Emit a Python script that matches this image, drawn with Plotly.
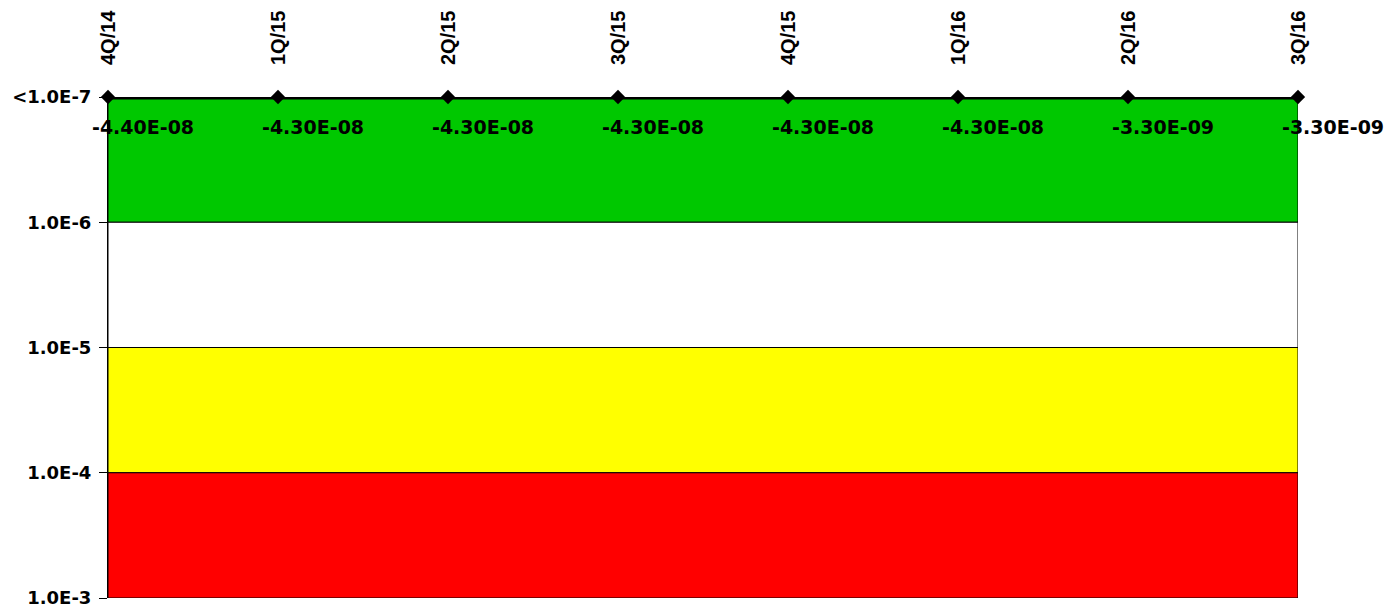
import numpy as np
import plotly.graph_objects as go

# ---- data ----
quarters = ["4Q/14", "1Q/15", "2Q/15", "3Q/15", "4Q/15", "1Q/16", "2Q/16", "3Q/16"]
values = [-4.40e-08, -4.30e-08, -4.30e-08, -4.30e-08, -4.30e-08, -4.30e-08, -3.30e-09, -3.30e-09]
value_labels = ["-4.40E-08", "-4.30E-08", "-4.30E-08", "-4.30E-08", "-4.30E-08", "-4.30E-08", "-3.30E-09", "-3.30E-09"]

floor_value = 1e-7  # values below this are shown at "<1.0E-7"
band_edges = [1e-7, 1e-6, 1e-5, 1e-4, 1e-3]
band_colors = ["#00C800", "#FFFFFF", "#FFFF00", "#FF0000"]
ytick_vals = [1e-7, 1e-6, 1e-5, 1e-4, 1e-3]
ytick_text = ["<1.0E-7", "1.0E-6", "1.0E-5", "1.0E-4", "1.0E-3"]

plotted = [max(v, floor_value) for v in values]

fig = go.Figure()

# threshold bands
for lo, hi, col in zip(band_edges[:-1], band_edges[1:], band_colors):
    fig.add_trace(go.Scatter(
        x=[quarters[0], quarters[-1], quarters[-1], quarters[0], quarters[0]],
        y=[lo, lo, hi, hi, lo],
        mode="lines", fill="toself", fillcolor=col,
        line=dict(color="black", width=1),
        hoverinfo="skip", showlegend=False,
    ))

# data line
fig.add_trace(go.Scatter(
    x=quarters, y=plotted, mode="lines+markers",
    line=dict(color="black", width=5),
    marker=dict(symbol="diamond", size=11, color="black"),
    cliponaxis=False, showlegend=False,
))

label_font = dict(family="DejaVu Sans", size=19, color="black", weight="bold")
tick_font = dict(family="DejaVu Sans", size=18, color="black", weight="bold")
for q, p, t in zip(quarters, plotted, value_labels):
    fig.add_annotation(
        x=q, y=np.log10(p), text=t, showarrow=False,
        xanchor="left", yanchor="top", xshift=-18, yshift=-17,
        font=label_font,
    )

fig.update_xaxes(
    type="category", categoryorder="array", categoryarray=quarters,
    side="top", range=[0, len(quarters) - 1], automargin=False,
    tickangle=-90, ticks="", showgrid=False, zeroline=False, showline=False,
    tickfont=dict(family="Liberation Sans", size=20, color="black", weight="bold"),
    ticklabelstandoff=31,
)
fig.update_yaxes(
    type="log", range=[np.log10(band_edges[-1]), np.log10(band_edges[0])],
    tickvals=ytick_vals, ticktext=ytick_text, automargin=False,
    ticks="outside", ticklen=8, tickcolor="black", tickwidth=1,
    showline=True, linecolor="black", linewidth=1,
    showgrid=False, zeroline=False,
    tickfont=tick_font, ticklabelstandoff=4,
)

fig.update_layout(
    width=1384, height=601,
    margin=dict(l=100, r=94, t=89, b=11, autoexpand=False),
    paper_bgcolor="white", plot_bgcolor="white",
    showlegend=False,
)

fig.write_html("out.html")
